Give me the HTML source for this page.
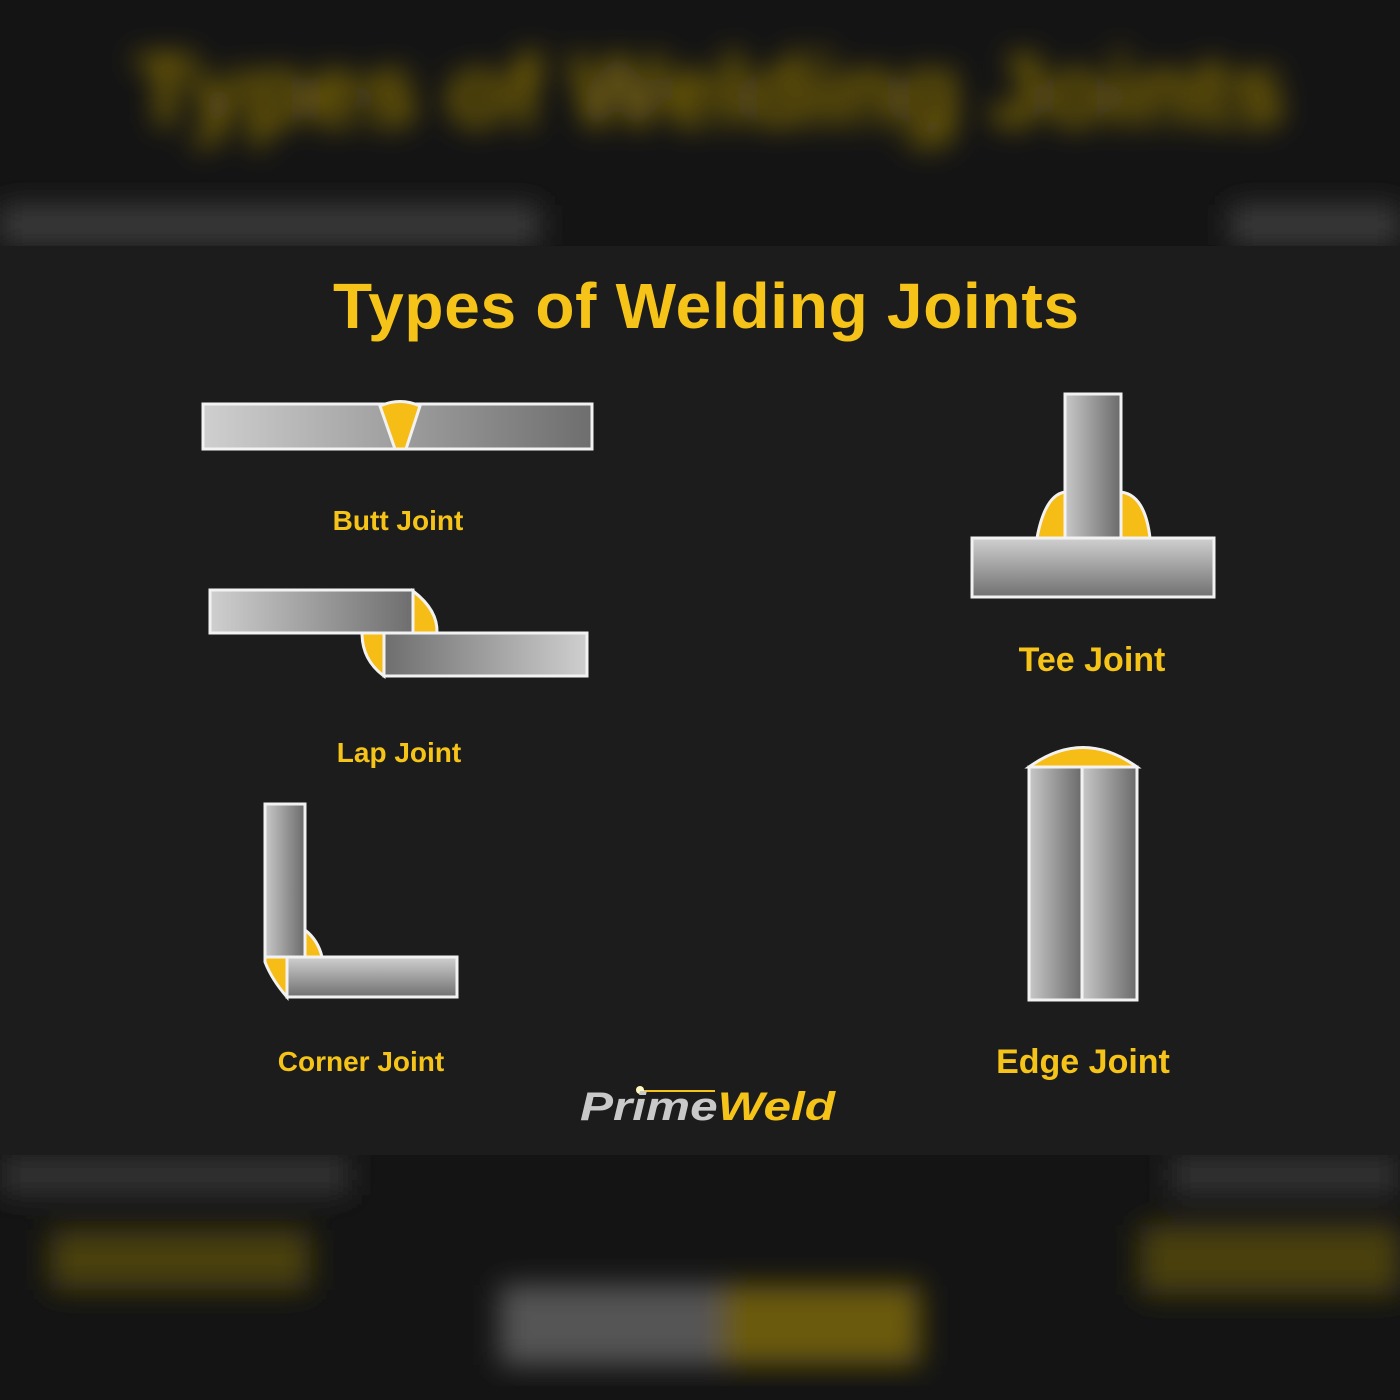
<!DOCTYPE html>
<html><head><meta charset="utf-8"><style>
html,body{margin:0;padding:0;background:#131313;}
body{width:1400px;height:1400px;overflow:hidden;position:relative;font-family:"Liberation Sans",sans-serif;}
</style></head><body>
<svg width="1400" height="1400" viewBox="0 0 1400 1400" xmlns="http://www.w3.org/2000/svg" style="position:absolute;left:0;top:0">
<defs>
<linearGradient id="gh" x1="0" x2="1" y1="0" y2="0"><stop offset="0" stop-color="#cfcfcf"/><stop offset="1" stop-color="#6e6e6e"/></linearGradient>
<linearGradient id="ghr" x1="1" x2="0" y1="0" y2="0"><stop offset="0" stop-color="#cfcfcf"/><stop offset="1" stop-color="#6e6e6e"/></linearGradient>
<linearGradient id="gv" x1="0" x2="0" y1="0" y2="1"><stop offset="0" stop-color="#d0d0d0"/><stop offset="1" stop-color="#707070"/></linearGradient>
<linearGradient id="gc" x1="0" x2="1" y1="0" y2="0"><stop offset="0" stop-color="#c8c8c8"/><stop offset="1" stop-color="#6a6a6a"/></linearGradient>
<filter id="bl"><feGaussianBlur stdDeviation="14"/></filter>
</defs>
<rect x="0" y="0" width="1400" height="246" fill="#141414"/>
<g filter="url(#bl)">
<text x="710" y="125" font-size="100" font-weight="bold" fill="#8a7210" text-anchor="middle" textLength="1150">Types of Welding Joints</text>
<rect x="0" y="205" width="540" height="40" fill="#3a3a3a"/>
<rect x="1230" y="205" width="170" height="40" fill="#3a3a3a"/>
</g>
<rect x="0" y="1155" width="1400" height="245" fill="#141414"/>
<g filter="url(#bl)">
<rect x="0" y="1155" width="350" height="40" fill="#333"/>
<rect x="1170" y="1155" width="230" height="40" fill="#333"/>
<rect x="50" y="1230" width="260" height="60" fill="#4a400c"/>
<rect x="1140" y="1225" width="260" height="70" fill="#4a400c"/>
<rect x="500" y="1285" width="220" height="80" fill="#555"/>
<rect x="720" y="1285" width="200" height="80" fill="#6a5a10"/>
</g>
<rect x="0" y="246" width="1400" height="909" fill="#1c1c1c"/>
<text x="706" y="328" font-size="64" font-weight="bold" fill="#f6c419" text-anchor="middle" textLength="746">Types of Welding Joints</text>

<g stroke="#f2f2f2" stroke-width="3">
<rect x="203" y="404" width="389" height="45" fill="url(#gh)"/>
<path d="M380,406 Q400,397 420,406 L406,449 L395,449 Z" fill="#f6bd16"/>
</g>
<text x="398" y="530" font-size="28" font-weight="bold" fill="#f6c419" text-anchor="middle">Butt Joint</text>

<g stroke="#f2f2f2" stroke-width="3">
<path d="M413,591 Q438,610 437,633 L413,633 Z" fill="#f6bd16"/>
<path d="M384,633 L362,633 Q362,660 384,676 Z" fill="#f6bd16"/>
<rect x="210" y="590" width="203" height="43" fill="url(#gh)"/>
<rect x="384" y="633" width="203" height="43" fill="url(#ghr)"/>
</g>
<text x="399" y="762" font-size="28" font-weight="bold" fill="#f6c419" text-anchor="middle">Lap Joint</text>

<g stroke="#f2f2f2" stroke-width="3">
<path d="M305,930 Q318,940 322,957 L305,957 Z" fill="#f6bd16"/>
<path d="M265,957 L287,957 L287,997 Q272,980 265,962 Z" fill="#f6bd16"/>
<rect x="265" y="804" width="40" height="153" fill="url(#gc)"/>
<rect x="287" y="957" width="170" height="40" fill="url(#gv)"/>
</g>
<text x="361" y="1071" font-size="28" font-weight="bold" fill="#f6c419" text-anchor="middle">Corner Joint</text>

<g stroke="#f2f2f2" stroke-width="3">
<path d="M1037,538 Q1045,495 1065,492 L1121,492 Q1145,495 1150,538 Z" fill="#f6bd16"/>
<rect x="1065" y="394" width="56" height="144" fill="url(#gc)"/>
<rect x="972" y="538" width="242" height="59" fill="url(#gv)"/>
</g>
<text x="1092" y="671" font-size="34" font-weight="bold" fill="#f6c419" text-anchor="middle">Tee Joint</text>

<g stroke="#f2f2f2" stroke-width="3">
<path d="M1029,767 Q1083,728 1137,767 Z" fill="#f6bd16"/>
<rect x="1029" y="767" width="53" height="233" fill="url(#gc)"/>
<rect x="1082" y="767" width="55" height="233" fill="url(#gc)"/>
</g>
<text x="1083" y="1073" font-size="34" font-weight="bold" fill="#f6c419" text-anchor="middle">Edge Joint</text>

<line x1="640" y1="1091" x2="715" y2="1091" stroke="#f6c419" stroke-width="2"/>
<circle cx="640" cy="1090" r="4" fill="#fff8c0"/>
<text x="580" y="1120" font-size="40" font-weight="bold" font-style="italic" fill="#c9c9c9" textLength="255" lengthAdjust="spacingAndGlyphs">Prime<tspan fill="#f6c419">Weld</tspan></text>
</svg>
</body></html>
